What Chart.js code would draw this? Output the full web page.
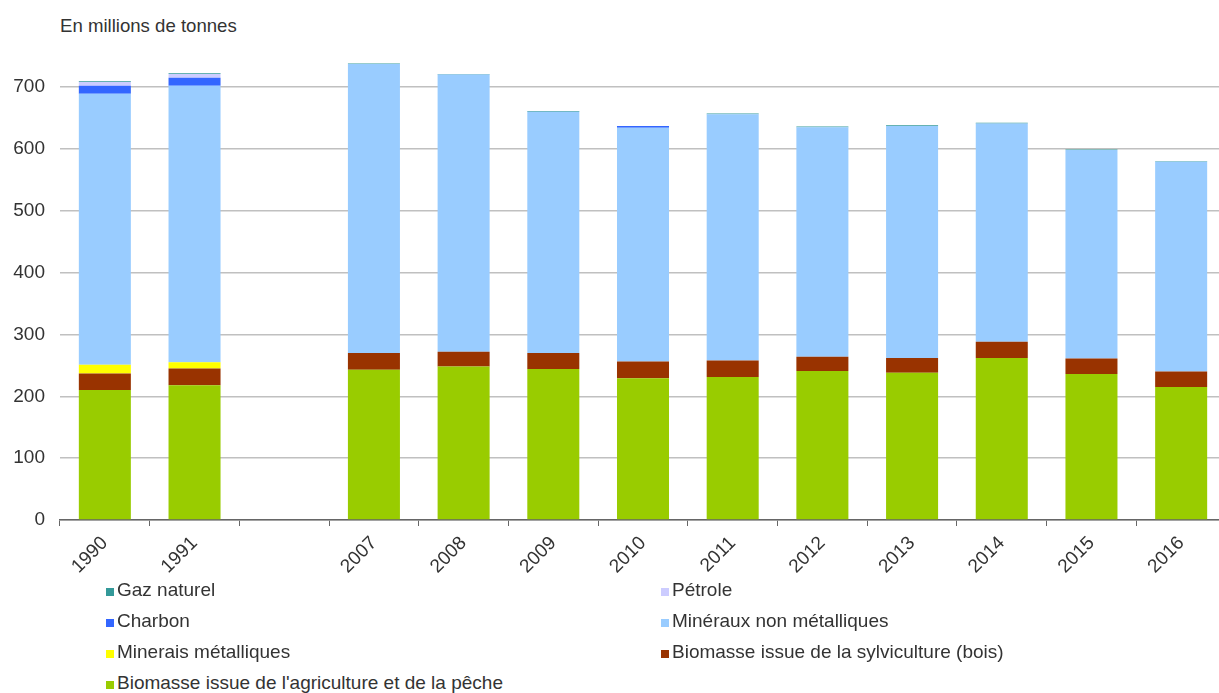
<!DOCTYPE html>
<html lang="fr">
<head>
<meta charset="utf-8">
<title>En millions de tonnes</title>
<script src="https://cdn.jsdelivr.net/npm/chart.js@4.4.1/dist/chart.umd.min.js"></script>
<style>
  body { margin: 0; background: #fff; overflow: hidden; font-family: "Liberation Sans", Arial, sans-serif; color: #333; }
  #wrap { position: relative; width: 1226px; height: 693px; }
  #chartTitle { position: absolute; left: 60px; top: 15px; font-size: 18.6px; color: #333; }
  #chartBox { position: absolute; left: 0; top: 0; width: 1226px; height: 582px; }
  #legend { position: absolute; left: 0; top: 578px; width: 1226px; }
  .legend-item { position: absolute; font-size: 19px; line-height: 24px; color: #333; white-space: nowrap; }
  .legend-item span.box { position: absolute; left: -11px; top: 10px; width: 8px; height: 8px; }
</style>
</head>
<body>
<div id="wrap">
  <div id="chartTitle">En millions de tonnes</div>
  <div id="chartBox"><canvas id="matChart"></canvas></div>
  <div id="legend"></div>
</div>

<script>
// ========================================
// DONNÉES (millions de tonnes)
// ========================================
const years = ["1990", "1991", "", "2007", "2008", "2009", "2010", "2011", "2012", "2013", "2014", "2015", "2016"];

const agriculture = [210, 218, null, 243, 248, 244, 229, 231, 241, 238, 262, 236, 215];
const sylviculture = [27, 27, null, 27, 24, 26, 27, 27, 23, 24, 26, 25, 25];
const mineraisMetal = [14, 10, null, 0, 0, 0, 0, 0, 0, 0, 0, 0, 0];
const mineraux = [438, 447, null, 467, 448, 390, 378, 398, 371, 375, 353, 337, 339];
const charbon = [13, 13, null, 0, 0, 0, 3, 0, 0, 0, 0, 0, 0];
const petrole = [6, 6, null, 0, 0, 0, 0, 0, 0, 0, 0, 0, 0];
const gazNaturel = [1, 1, null, 1, 1, 1, 0, 1, 1, 1, 1, 1, 1];

const yTicks = [0, 100, 200, 300, 400, 500, 600, 700];

// ordre d'empilement : du bas vers le haut
const series = [
  { label: "Biomasse issue de l'agriculture et de la pêche", data: agriculture, color: "#99cc00" },
  { label: "Biomasse issue de la sylviculture (bois)", data: sylviculture, color: "#993300" },
  { label: "Minerais métalliques", data: mineraisMetal, color: "#ffff00" },
  { label: "Minéraux non métalliques", data: mineraux, color: "#99ccff" },
  { label: "Charbon", data: charbon, color: "#3366ff" },
  { label: "Pétrole", data: petrole, color: "#ccccff" },
  { label: "Gaz naturel", data: gazNaturel, color: "#339999" },
];

// ========================================
// GRAPHIQUE
// ========================================
function renderChart() {
  const ctx = document.getElementById("matChart");
  new Chart(ctx, {
    type: "bar",
    data: {
      labels: years,
      datasets: series.map((s) => ({
        label: s.label,
        data: s.data,
        backgroundColor: s.color,
        borderWidth: 0,
        barPercentage: 0.58,
        categoryPercentage: 1.0,
      })),
    },
    options: {
      responsive: true,
      maintainAspectRatio: false,
      animation: false,
      layout: { padding: { top: 56, right: 0, left: 0, bottom: 0 } },
      plugins: {
        legend: { display: false },
        tooltip: { enabled: false },
      },
      scales: {
        x: {
          stacked: true,
          grid: {
            drawOnChartArea: false,
            drawTicks: true,
            tickLength: 6,
            color: "#666",
          },
          border: { display: true, color: "#666", width: 1.5 },
          ticks: {
            color: "#333",
            font: { family: "Liberation Sans", size: 19 },
            minRotation: 45,
            maxRotation: 45,
            autoSkip: false,
            padding: 6,
          },
          afterFit: (scale) => { scale.height = 62; },
        },
        y: {
          stacked: true,
          min: 0,
          max: 750,
          afterBuildTicks: (axis) => {
            axis.ticks = yTicks.map((v) => ({ value: v }));
          },
          grid: { color: "#c0c0c0", lineWidth: 1.5, drawTicks: false },
          border: { display: false },
          ticks: {
            color: "#333",
            font: { family: "Liberation Sans", size: 19 },
            padding: 15,
          },
          afterFit: (scale) => { scale.width = 60; },
        },
      },
    },
  });
}

// ========================================
// LÉGENDE (2 colonnes, ordre inverse de l'empilement)
// ========================================
function renderLegend() {
  const legend = document.getElementById("legend");
  const items = series.slice().reverse();
  const colX = [117, 672];
  legend.innerHTML = items
    .map((s, i) => {
      const x = colX[i % 2];
      const y = Math.floor(i / 2) * 31;
      return `<div class="legend-item" style="left:${x}px;top:${y}px"><span class="box" style="background:${s.color}"></span>${s.label}</div>`;
    })
    .join("");
}

renderChart();
renderLegend();
</script>
</body>
</html>
